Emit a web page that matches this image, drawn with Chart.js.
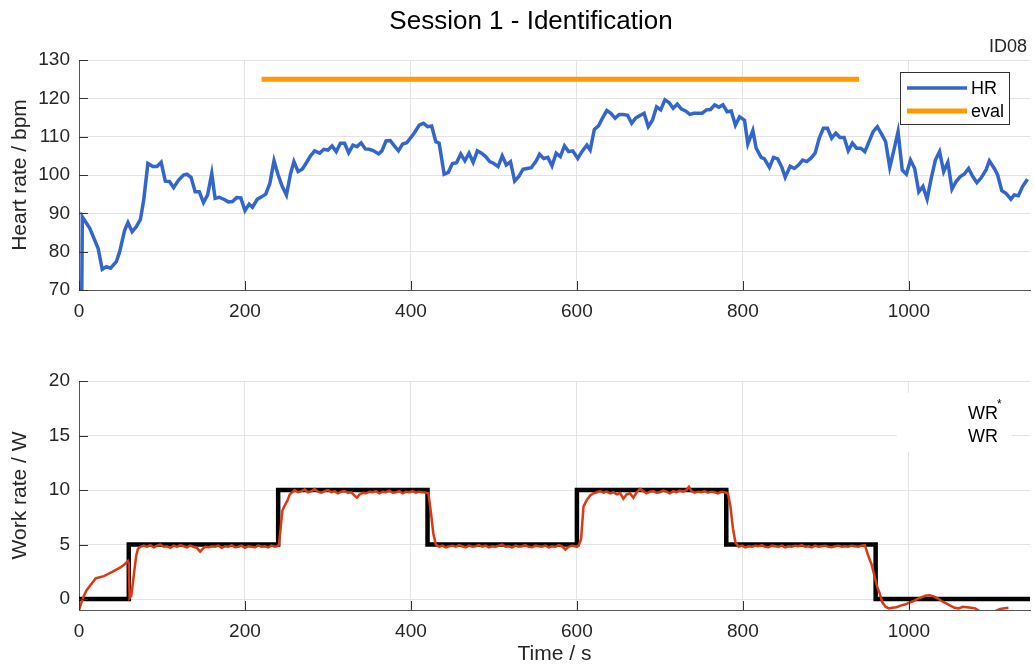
<!DOCTYPE html>
<html>
<head>
<meta charset="utf-8">
<title>Session 1 - Identification</title>
<script src="https://cdn.jsdelivr.net/npm/chart.js"></script>
<style>
  body { margin: 0; background: #fff; }
  .wrap { position: relative; width: 1034px; height: 667px; }
  #hr-box { position: absolute; left: 0; top: 0; width: 1034px; height: 340px; }
  #wr-box { position: absolute; left: 0; top: 340px; width: 1034px; height: 327px; }
</style>
</head>
<body>
<div class="wrap">
  <div id="hr-box"><canvas id="hr-chart"></canvas></div>
  <div id="wr-box"><canvas id="wr-chart"></canvas></div>
</div>
<script>
// heart rate
var hrTime = [3, 4, 13, 23, 28, 33, 38, 45, 49, 55, 59, 64, 69, 74, 78, 83, 89, 94, 99, 104, 109, 114, 120, 126, 130, 135, 140, 145, 150, 155, 160, 164, 169, 175, 180, 185, 190, 195, 200, 205, 209, 215, 220, 225, 230, 235, 240, 245, 250, 255, 259, 264, 269, 274, 279, 284, 290, 295, 300, 305, 310, 315, 320, 325, 330, 335, 340, 345, 350, 355, 361, 365, 370, 375, 380, 385, 390, 395, 400, 405, 410, 415, 420, 425, 430, 434, 440, 445, 450, 455, 460, 465, 470, 475, 480, 485, 490, 495, 500, 505, 510, 515, 520, 525, 530, 535, 540, 545, 551, 555, 560, 565, 570, 575, 580, 585, 590, 595, 601, 606, 612, 616, 621, 626, 630, 636, 641, 646, 651, 656, 661, 666, 671, 676, 681, 686, 691, 696, 701, 706, 711, 716, 721, 726, 731, 736, 741, 746, 751, 756, 761, 766, 771, 776, 781, 786, 791, 796, 802, 806, 812, 816, 822, 826, 832, 837, 842, 847, 851, 857, 862, 867, 872, 877, 882, 887, 892, 897, 902, 907, 912, 917, 922, 927, 932, 937, 942, 947, 952, 957, 962, 967, 972, 977, 982, 987, 992, 997, 1002, 1007, 1012, 1017, 1022, 1027, 1032, 1037, 1042, 1047, 1052, 1057, 1062, 1067, 1072, 1077, 1082, 1087, 1093, 1097, 1103, 1107, 1112, 1117, 1123, 1127, 1132, 1137, 1143];
var hrValue = [60, 89.1, 86.1, 80.9, 75.4, 76.1, 75.7, 77.4, 80, 85.6, 87.6, 85.2, 86.5, 88.4, 93.5, 103, 102.2, 102.2, 103.3, 98.4, 98.3, 96.7, 98.7, 100, 100.2, 99.4, 95.6, 95.6, 92.8, 94.8, 100.4, 93.9, 94.2, 93.6, 93, 93.1, 94.1, 94, 90.7, 92.4, 91.6, 93.7, 94.3, 95, 97.8, 103.7, 100, 97, 94.8, 100.4, 103.5, 100.9, 101.5, 103.2, 105, 106.3, 105.7, 106.7, 106.5, 107.6, 106.1, 108.3, 108.3, 105.8, 107.8, 107.4, 108.4, 106.8, 106.7, 106.3, 105.5, 106.3, 108.9, 109, 107.6, 106.3, 108.1, 108.4, 109.8, 111.3, 113, 113.5, 112.6, 112.8, 108.7, 108.3, 100.2, 100.7, 103, 103.2, 105.5, 103.7, 105.7, 103.3, 106.3, 105.7, 104.8, 103.5, 103, 102.2, 105, 102.6, 103.5, 98.4, 99.6, 101.5, 101.7, 101.9, 103.7, 105.4, 104.3, 104.6, 102.4, 105.7, 104.8, 107.6, 106.1, 106.3, 104.3, 106.1, 107.8, 106.5, 111.9, 112.8, 114.5, 116.8, 116.1, 114.8, 115.8, 115.8, 115.6, 113.5, 114.9, 115.5, 116.1, 112.6, 114.3, 117.8, 117, 119.6, 118.9, 117.4, 118.5, 117.2, 116.7, 115.8, 116.1, 116.1, 116.1, 117, 117.1, 118.3, 117.7, 118.3, 116.5, 116.7, 113, 115.2, 114.3, 108.1, 111.6, 107, 104.6, 104.2, 102, 104.6, 104.2, 102, 99.4, 102.3, 101.7, 102.6, 103.9, 103.5, 104.4, 105.7, 109.6, 112.2, 112.2, 109.6, 110.9, 109.8, 109.8, 106.3, 108.3, 107, 107, 106.1, 108.7, 111.3, 112.6, 110.7, 108.7, 102, 106.5, 111.3, 101.3, 100.2, 103.9, 101.7, 95.6, 97, 93.7, 99.2, 103.9, 106.1, 100.9, 103.3, 96.3, 98.3, 99.6, 100.3, 101.7, 99.6, 98, 99.2, 101.3, 103.7, 101.7, 100, 95.9, 95.2, 93.7, 94.8, 94.6, 97, 98.9];

// evaluation window
var evalTime = [220, 940];
var evalValue = [125, 125];

// reference work rate WR* (value holds from each time on)
var wrRefTime = [0, 60, 240, 420, 600, 780, 960, 1146];
var wrRefValue = [0, 5, 10, 5, 10, 5, 0, 0];

// measured work rate WR
var wrTime = [0, 3, 6, 9, 13, 17, 20, 25, 30, 35, 40, 45, 50, 55, 59, 60, 61, 63, 65, 67, 69, 71, 74, 78, 82, 86, 90, 94, 98, 102, 106, 110, 114, 118, 122, 126, 130, 134, 138, 142, 146, 149, 152, 156, 160, 164, 168, 172, 176, 180, 184, 188, 192, 196, 200, 204, 208, 212, 216, 220, 224, 228, 232, 236, 239, 241, 243, 245, 248, 251, 254, 257, 260, 264, 268, 272, 276, 280, 284, 288, 292, 296, 300, 304, 308, 312, 316, 320, 324, 328, 332, 335, 338, 342, 346, 350, 354, 358, 362, 366, 370, 374, 378, 382, 386, 390, 394, 398, 402, 406, 410, 414, 418, 421, 424, 427, 430, 434, 438, 442, 446, 450, 454, 458, 462, 466, 470, 474, 478, 482, 486, 490, 494, 498, 502, 506, 510, 514, 518, 522, 526, 530, 534, 538, 542, 546, 550, 554, 558, 562, 566, 570, 574, 578, 582, 586, 590, 594, 598, 600, 602, 605, 608, 612, 616, 620, 624, 628, 632, 636, 640, 644, 648, 652, 656, 660, 664, 668, 672, 676, 680, 684, 688, 692, 696, 700, 704, 708, 712, 716, 720, 724, 728, 732, 735, 738, 742, 746, 750, 754, 758, 762, 766, 770, 774, 778, 782, 785, 788, 791, 795, 799, 803, 807, 811, 815, 819, 823, 827, 831, 835, 839, 843, 847, 851, 855, 859, 863, 867, 871, 875, 879, 883, 887, 891, 895, 899, 903, 907, 911, 915, 919, 923, 927, 931, 935, 939, 943, 947, 951, 955, 959, 962, 965, 968, 972, 976, 980, 985, 990, 995, 1000, 1005, 1010, 1015, 1020, 1025, 1030, 1035, 1040, 1045, 1050, 1055, 1060, 1065, 1070, 1075, 1080, 1085, 1090, 1095, 1100, 1104, 1110, 1120, 1130, 1138, 1142, 1146];
var wrValue = [-1.0, -0.3, 0.3, 0.8, 1.2, 1.6, 1.9, 2.0, 2.1, 2.3, 2.5, 2.7, 2.9, 3.2, 3.5, 3.3, 0.1, 0.3, 1.5, 2.8, 4.0, 4.6, 4.8, 4.9, 4.8, 4.95, 4.75, 4.9, 5.0, 4.8, 4.85, 4.7, 4.9, 4.8, 4.95, 4.85, 4.75, 4.9, 4.8, 4.7, 4.35, 4.6, 4.8, 4.75, 4.85, 4.8, 4.9, 4.7, 4.85, 4.8, 4.95, 4.75, 4.8, 4.9, 4.7, 4.85, 4.8, 4.75, 4.9, 4.8, 4.85, 4.75, 4.9, 4.8, 4.85, 5.0, 6.5, 8.1, 8.6, 9.0, 9.6, 9.8, 10.0, 9.8, 9.9, 10.05, 9.8, 9.9, 10.1, 9.85, 9.75, 9.9, 10.0, 9.8, 9.9, 9.7, 9.85, 9.9, 9.75, 9.8, 9.5, 9.3, 9.6, 9.75, 9.7, 9.85, 9.8, 9.9, 9.7, 9.85, 9.8, 9.95, 9.75, 9.8, 9.9, 9.7, 9.85, 9.8, 9.9, 9.75, 9.85, 9.8, 9.75, 9.7, 8.0, 6.0, 5.0, 4.8, 4.9, 4.75, 4.85, 4.9, 4.8, 4.95, 4.85, 4.75, 4.9, 4.8, 4.85, 4.95, 4.8, 4.9, 4.75, 4.85, 4.8, 4.9, 5.0, 4.8, 4.85, 4.75, 4.9, 4.8, 4.85, 4.95, 4.8, 4.75, 4.9, 4.85, 4.8, 4.9, 4.75, 4.85, 4.8, 4.95, 4.85, 4.55, 4.8, 4.9, 4.85, 4.8, 4.9, 5.5, 8.5, 9.1, 9.5, 9.7, 9.8, 9.9, 9.75, 9.85, 9.7, 9.8, 9.6, 9.75, 9.2, 9.6, 9.7, 9.3, 9.8, 10.1, 9.9, 9.7, 9.85, 9.9, 9.75, 9.8, 9.95, 9.85, 9.7, 9.9, 9.8, 9.95, 9.85, 10.0, 10.3, 9.9, 9.75, 9.85, 9.8, 9.9, 9.75, 9.85, 9.8, 9.7, 9.85, 9.8, 9.7, 8.5, 6.5, 5.2, 4.8, 4.9, 4.75, 4.85, 4.8, 4.9, 4.85, 4.95, 4.8, 4.75, 4.9, 4.85, 4.8, 4.9, 4.75, 4.85, 4.8, 4.9, 4.85, 4.95, 4.8, 4.85, 4.75, 4.9, 4.8, 4.85, 4.9, 4.8, 4.75, 4.85, 4.9, 4.8, 4.85, 4.8, 4.9, 4.85, 4.8, 4.9, 4.95, 4.0, 3.2, 2.0, 1.1, 0.5, -0.3, -0.7, -0.85, -0.8, -0.75, -0.6, -0.5, -0.35, -0.2, 0.0, 0.15, 0.3, 0.35, 0.25, 0.05, -0.2, -0.4, -0.6, -0.8, -0.85, -0.7, -0.75, -0.8, -0.85, -1.1, -1.4, -1.5, -1.4, -1.1, -0.9, -0.8];

var timeTicks = [0, 200, 400, 600, 800, 1000];
var hrTicks = [70, 80, 90, 100, 110, 120, 130];
var wrTicks = [0, 5, 10, 15, 20];

function pts(xs, ys) {
  return xs.map(function (x, i) { return {x: x, y: ys[i]}; });
}

var FONT = '"Liberation Sans", Arial, Helvetica, sans-serif';
var TXT = '#262626';
var GRID = '#e3e3e3';

function setTicks(list) {
  return function (scale) { scale.ticks = list.map(function (v) { return {value: v}; }); };
}

function plain(v) { return String(v); }

function xScale(height, title) {
  return {
    type: 'linear', min: 0, max: 1146,
    afterBuildTicks: setTicks(timeTicks),
    afterFit: function (s) { s.height = height; },
    grid: { color: GRID, drawTicks: false },
    border: { color: '#555', width: 1 },
    ticks: { color: TXT, font: { family: FONT, size: 19 }, padding: 10, maxRotation: 0, callback: plain },
    title: title ? { display: true, text: title, color: TXT, font: { family: FONT, size: 21 }, padding: { bottom: 0 } } : { display: false }
  };
}

function yScale(min, max, list, title) {
  return {
    min: min, max: max,
    afterBuildTicks: setTicks(list),
    afterFit: function (s) { s.width = 79; },
    grid: { color: GRID, drawTicks: false },
    border: { color: '#555', width: 1 },
    ticks: { color: TXT, font: { family: FONT, size: 19 }, padding: 9, callback: plain },
    title: { display: true, text: title, color: TXT, font: { family: FONT, size: 21 }, padding: { top: 8 } }
  };
}

// small inward tick marks, like the original axes
function innerTicks(chart) {
  var ctx = chart.ctx, a = chart.chartArea;
  var sx = chart.scales.x, sy = chart.scales.y;
  ctx.save();
  ctx.strokeStyle = '#333';
  ctx.lineWidth = 1;
  ctx.beginPath();
  sy.ticks.forEach(function (t) {
    var y = Math.round(sy.getPixelForValue(t.value)) + 0.5;
    ctx.moveTo(a.left, y); ctx.lineTo(a.left + 9, y);
  });
  sx.ticks.forEach(function (t) {
    var x = Math.round(sx.getPixelForValue(t.value)) + 0.5;
    ctx.moveTo(x, a.bottom); ctx.lineTo(x, a.bottom - 9);
  });
  ctx.stroke();
  ctx.restore();
}

var hrDecor = {
  id: 'hrDecor',
  afterDraw: function (chart) {
    innerTicks(chart);
    var ctx = chart.ctx;
    ctx.save();
    ctx.fillStyle = '#000';
    ctx.font = '26px ' + FONT;
    ctx.textAlign = 'center';
    ctx.textBaseline = 'middle';
    ctx.fillText('Session 1 - Identification', 531, 22);
    ctx.fillStyle = TXT;
    ctx.font = '18px ' + FONT;
    ctx.textAlign = 'right';
    ctx.fillText('ID08', 1027, 47);
    // legend
    ctx.fillStyle = '#fff';
    ctx.fillRect(900.5, 72.5, 109, 52);
    ctx.strokeStyle = '#333';
    ctx.lineWidth = 1;
    ctx.strokeRect(900.5, 72.5, 109, 52);
    var ds = chart.data.datasets;
    [[88, 0], [111, 1]].forEach(function (r) {
      var d = ds[r[1]];
      ctx.strokeStyle = d.borderColor;
      ctx.lineWidth = d.borderWidth;
      ctx.beginPath();
      ctx.moveTo(907, r[0]); ctx.lineTo(967, r[0]);
      ctx.stroke();
      ctx.fillStyle = '#000';
      ctx.font = '18px ' + FONT;
      ctx.textAlign = 'left';
      ctx.fillText(d.label, 971, r[0] + 1);
    });
    ctx.restore();
  }
};

var wrDecor = {
  id: 'wrDecor',
  afterDraw: function (chart) {
    innerTicks(chart);
    var ctx = chart.ctx;
    ctx.save();
    ctx.fillStyle = '#fff';
    ctx.fillRect(897, 53, 115, 59);
    ctx.fillStyle = '#000';
    ctx.font = '18px ' + FONT;
    ctx.textAlign = 'left';
    ctx.textBaseline = 'middle';
    ctx.fillText('WR', 968, 74);
    ctx.font = '12px ' + FONT;
    ctx.fillText('*', 997, 65);
    ctx.font = '18px ' + FONT;
    ctx.fillText('WR', 968, 97);
    ctx.restore();
  }
};

new Chart(document.getElementById('hr-chart'), {
  type: 'line',
  data: {
    datasets: [
      { label: 'HR', data: pts(hrTime, hrValue), borderColor: '#3366cc', borderWidth: 3.5, pointRadius: 0, tension: 0, order: 1 },
      { label: 'eval', data: pts(evalTime, evalValue), borderColor: '#ff9900', borderWidth: 5, pointRadius: 0, borderCapStyle: 'butt', order: 0 }
    ]
  },
  options: {
    responsive: true, maintainAspectRatio: false, animation: false,
    layout: { padding: { top: 60, right: 4, left: 0, bottom: 0 } },
    plugins: { legend: { display: false }, tooltip: { enabled: false } },
    scales: {
      x: xScale(50, null),
      y: yScale(70, 130, hrTicks, 'Heart rate / bpm')
    }
  },
  plugins: [hrDecor]
});

new Chart(document.getElementById('wr-chart'), {
  type: 'line',
  data: {
    datasets: [
      { label: 'WR*', data: pts(wrRefTime, wrRefValue), borderColor: '#000', borderWidth: 4.5, pointRadius: 0, stepped: true, order: 1 },
      { label: 'WR', data: pts(wrTime, wrValue), borderColor: '#dc3912', borderWidth: 2.5, pointRadius: 0, tension: 0, order: 0 }
    ]
  },
  options: {
    responsive: true, maintainAspectRatio: false, animation: false,
    layout: { padding: { top: 41, right: 4, left: 0, bottom: 0 } },
    plugins: { legend: { display: false }, tooltip: { enabled: false } },
    scales: {
      x: xScale(57, 'Time / s'),
      y: yScale(-1, 20, wrTicks, 'Work rate / W')
    }
  },
  plugins: [wrDecor]
});
</script>
</body>
</html>
